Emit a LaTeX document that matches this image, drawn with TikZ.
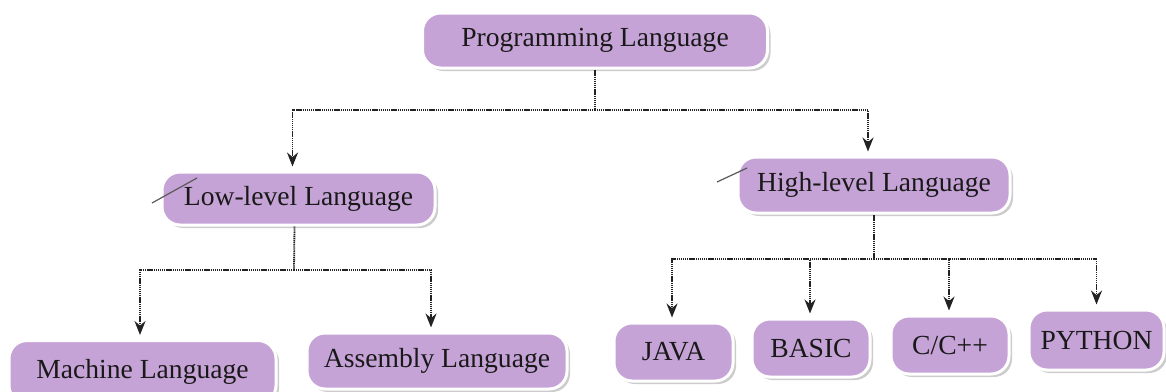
\documentclass[tikz,border=0pt]{standalone}
\usepackage{fontspec}
\setmainfont{Liberation Serif}
\usetikzlibrary{arrows.meta,shadows}
\definecolor{boxfill}{RGB}{198,163,214}
\definecolor{linecol}{RGB}{35,35,35}
\tikzset{
  box/.style={rectangle, rounded corners=9pt, fill=boxfill, draw=white, line width=1.5pt,
    drop shadow={shadow xshift=1.5pt, shadow yshift=-1.5pt, fill=black!40, opacity=0.5},
    inner sep=0pt, font=\fontsize{13.8}{16}\selectfont, text=black!90},
  conn/.style={draw=linecol, line width=0.9pt, dash pattern=on 0.6pt off 0.35pt},
  arr/.style={conn, -{Stealth[length=7pt,width=5.5pt]}, shorten >=2pt},
  scribble/.style={draw=gray!70!black, line width=0.6pt}
}
\begin{document}
\begin{tikzpicture}[x=0.5pt,y=-0.5pt]
\useasboundingbox (0,0) rectangle (1166,391);
\node[box, minimum width=172.5pt, minimum height=27.5pt] (pl) at (595,40.5) {Programming Language};
\node[box, minimum width=136.5pt, minimum height=26.5pt] (ll) at (298.5,198.5) {Low-level Language};
\node[box, minimum width=136pt, minimum height=28pt] (hl) at (874,185) {High-level Language};
\node[box, minimum width=133.5pt, minimum height=31.5pt] (ml) at (142.5,372) {Machine Language};
\node[box, minimum width=130pt, minimum height=28pt] (al) at (437,361) {Assembly Language};
\node[box, minimum width=59.5pt, minimum height=29pt] (java) at (673.5,352) {JAVA};
\node[box, minimum width=59pt, minimum height=29pt] (basic) at (811,348) {BASIC};
\node[box, minimum width=59pt, minimum height=29pt] (cpp) at (950,345) {C/C++};
\node[box, minimum width=67.5pt, minimum height=30pt] (py) at (1096.5,340) {PYTHON};
% level 1
\coordinate (j1) at (595,110);
\draw[conn] (pl.south) -- (j1);
\draw[arr] (j1) -| ([xshift=-3pt]ll.north);
\draw[arr] (j1) -| ([xshift=-3pt]hl.north);
% level 2 left
\coordinate (j2) at (294,270);
\draw[conn] ([xshift=-2pt]ll.south) -- (j2);
\draw[arr] (j2) -| ([xshift=-1.25pt]ml.north);
\draw[arr] (j2) -| ([xshift=-3pt]al.north);
% level 2 right
\coordinate (j3) at (874,259);
\draw[conn] (hl.south) -- (j3);
\draw[arr] (j3) -| ([xshift=-0.75pt]java.north);
\draw[arr] (j3) -| ([xshift=-0.5pt]basic.north);
\draw[arr] (j3) -| ([xshift=-0.5pt]cpp.north);
\draw[arr] (j3) -| (py.north);
% scribbles
\draw[scribble] (152,203) -- (197,178);
\draw[scribble] (717,182) -- (747,168);
\end{tikzpicture}
\end{document}
